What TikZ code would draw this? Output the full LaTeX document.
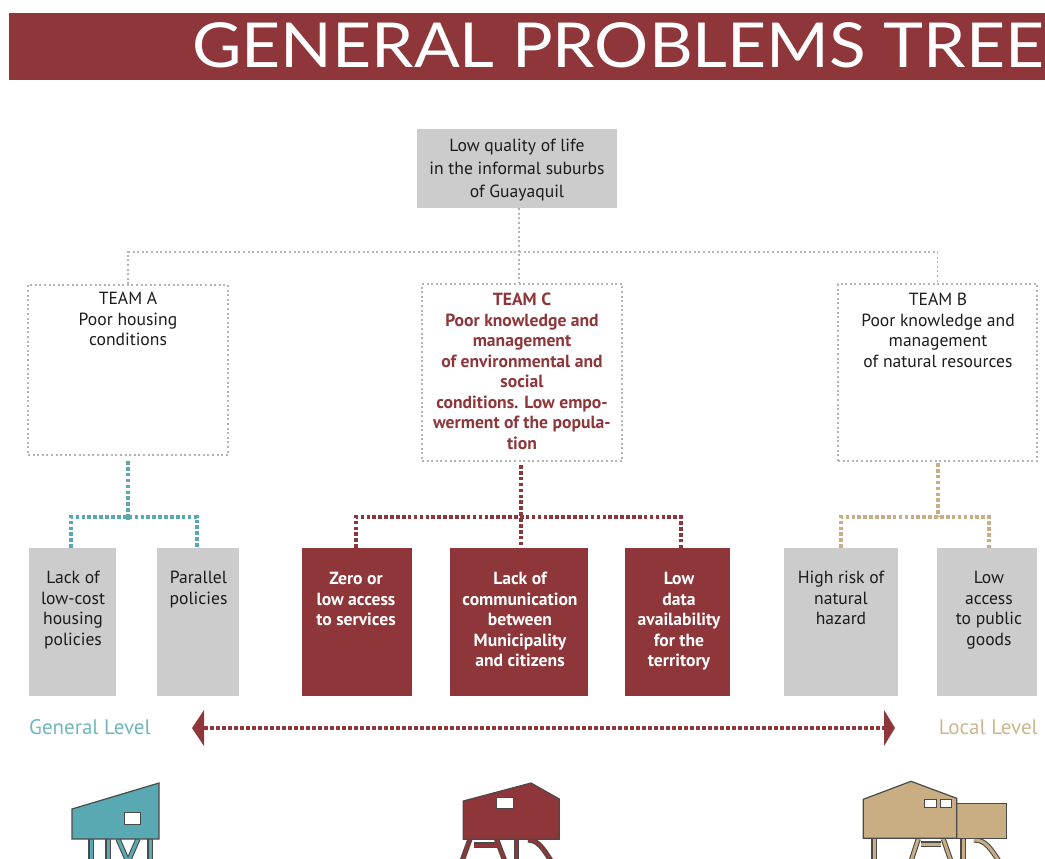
\documentclass[tikz,border=0pt]{standalone}
\usepackage{fontspec}
\setmainfont{PT Sans}
\newfontfamily\titlefont{Lato}
\usetikzlibrary{calc}
\definecolor{wine}{HTML}{8E3639}
\definecolor{boxgrey}{HTML}{CCCCCC}
\definecolor{teal1}{HTML}{58A9B1}
\definecolor{tan1}{HTML}{C8AE82}
\definecolor{dots}{HTML}{B4B4B4}
\definecolor{ink}{HTML}{1C1C1C}
\definecolor{outl}{HTML}{4A4A4A}
\tikzset{
  x=1pt,y=-1pt,
  greybox/.style={fill=boxgrey,draw=none,inner sep=0pt},
  winebox/.style={fill=wine,draw=none,inner sep=0pt},
  teambox/.style={draw=dots,line width=1.4pt,dash pattern=on 2pt off 2.6pt,inner sep=0pt},
  boxtext/.style={align=center,inner sep=0pt,text=ink,font=\fontsize{17.6}{20.5}\selectfont},
  whitetext/.style={boxtext,text=white,font=\fontsize{17.6}{20.5}\selectfont\bfseries},
  thin dots/.style={draw=dots,line width=1.4pt,dash pattern=on 2pt off 2.6pt},
  thick dots/.style={line width=3.4pt,dash pattern=on 3.6pt off 2.3pt},
  house/.style={draw=outl,line width=1.2pt,line join=miter},
  win/.style={fill=white,draw=outl,line width=1pt},
  legout/.style={draw=outl,line width=5.2pt},
  tealleg/.style={draw=teal1,line width=3pt},
  wineleg/.style={draw=wine,line width=3pt},
  tanleg/.style={draw=tan1,line width=3pt},
}
\begin{document}
\begin{tikzpicture}
\useasboundingbox (0,0) rectangle (1045,859);
% header
\node[fill=wine,inner sep=0pt,minimum width=1036pt,minimum height=67pt,anchor=north west] (header) at (9,13) {};
\node[anchor=base west,inner sep=0pt,text=white,font=\titlefont\fontsize{62}{62}\selectfont] (title) at (192,68) {\scalebox{1.092}[1]{GENERAL PROBLEMS TREE}};
% top box
\node[greybox,minimum width=200pt,minimum height=79pt] (top) at (517,168.5) {};
\node[boxtext,font=\fontsize{17.6}{23}\selectfont,anchor=center] (toptext) at (517,170) {Low quality of life\\in the informal suburbs\\of Guayaquil};
% teams
\node[teambox,minimum width=200pt,minimum height=170pt] (teamA) at (128,370) {};
\node[teambox,minimum width=200pt,minimum height=177pt] (teamC) at (522,372.5) {};
\node[teambox,minimum width=199pt,minimum height=177pt] (teamB) at (937.5,372.5) {};
\node[boxtext,anchor=north] (teamAtext) at (128,292) {TEAM A\\Poor housing\\conditions};
\node[boxtext,anchor=north,text=wine,font=\fontsize{17.6}{20.5}\selectfont\bfseries] (teamCtext) at (522,293) {TEAM C\\Poor knowledge and\\management\\of environmental and\\social\\conditions. Low empo-\\werment of the popula-\\tion};
\node[boxtext,anchor=north] (teamBtext) at (938,293) {TEAM B\\Poor knowledge and\\management\\of natural resources};
% problem boxes
\node[greybox,minimum width=87pt,minimum height=148pt] (p1) at (72.5,622) {};
\node[greybox,minimum width=82pt,minimum height=148pt] (p2) at (198,622) {};
\node[winebox,minimum width=110pt,minimum height=148pt] (p3) at (357,622) {};
\node[winebox,minimum width=138pt,minimum height=148pt] (p4) at (519,622) {};
\node[winebox,minimum width=105pt,minimum height=148pt] (p5) at (677.5,622) {};
\node[greybox,minimum width=114pt,minimum height=148pt] (p6) at (841,622) {};
\node[greybox,minimum width=100pt,minimum height=148pt] (p7) at (987,622) {};
\node[boxtext,anchor=north] (p1t) at (73,571) {Lack of\\low-cost\\housing\\policies};
\node[boxtext,anchor=north] (p2t) at (198.5,571) {Parallel\\policies};
\node[whitetext,anchor=north] (p3t) at (356,572) {Zero or\\low access\\to services};
\node[whitetext,anchor=north] (p4t) at (520,572) {Lack of\\communication\\between\\Municipality\\and citizens};
\node[whitetext,anchor=north] (p5t) at (679,572) {Low\\data\\availability\\for the\\territory};
\node[boxtext,anchor=north] (p6t) at (841,571) {High risk of\\natural\\hazard};
\node[boxtext,anchor=north] (p7t) at (989,571) {Low\\access\\to public\\goods};
% upper connectors
\coordinate (hub) at (519,252);
\draw[thin dots] ([xshift=2pt]top.south) -- ([xshift=-3pt]teamC.north);
\draw[thin dots] (teamA.north) |- (hub) -| (teamB.north);
% teal tree
\coordinate (ja) at (128,517);
\coordinate (fromA) at (128,461);
\draw[thick dots,draw=teal1] (fromA) -- (ja);
\draw[thick dots,draw=teal1] ([xshift=-1.5pt]p1.north) |- (ja) -| ([xshift=-1pt]p2.north);
\draw[thick dots,draw=teal1] (ja) -- +(0,3);
% wine tree
\coordinate (jc) at (521,517);
\coordinate (fromC) at (521,465);
\draw[thick dots,draw=wine] (fromC) -- ([xshift=2pt]p4.north);
\draw[thick dots,draw=wine] ([xshift=-1pt]p3.north) |- (jc) -| ([xshift=3.5pt]p5.north);
% tan tree
\coordinate (jb) at (938,517);
\coordinate (fromB) at (938,463);
\draw[thick dots,draw=tan1] (fromB) -- (jb);
\draw[thick dots,draw=tan1] (p6.north) |- (jb) -| ([xshift=2pt]p7.north);
% level arrow
\node[anchor=base west,inner sep=0pt,text=teal1!85!white,font=\fontsize{21}{21}\selectfont] (general) at (29,734) {General Level};
\node[anchor=base east,inner sep=0pt,text=tan1!90!white,font=\fontsize{21}{21}\selectfont] (local) at (1038,734) {Local Level};
\coordinate (arrL) at (204,728);
\coordinate (arrR) at (884,728);
\draw[draw=wine,line width=3.4pt,dash pattern=on 3.6pt off 2.4pt] (arrL) -- (arrR);
\fill[wine] (204,710) -- (192,728) -- (204,746) -- cycle;
\fill[wine] (884,710) -- (895,728) -- (884,746) -- cycle;
\begin{scope}
\clip (0,770) rectangle (1045,859);
% teal house
\foreach \p in {legout,tealleg} {
  \draw[\p] (91,839) -- (91,870);
  \draw[\p] (108,839) -- (108,870);
  \draw[\p] (118,839) -- (128,862);
  \draw[\p] (138,839) -- (128,862);
  \draw[\p] (150,839) -- (150,870);
}
\draw[house,fill=teal1] (72,809) -- (159,783) -- (159,839) -- (72,839) -- cycle;
\draw[win] (124,812) rectangle (140,824);
% wine house
\foreach \p in {legout,wineleg} {
  \draw[\p] (470,839) -- (461,864);
  \draw[\p] (496.5,839) -- (506,864);
  \draw[\p] (474,845) -- (499,845);
  \draw[\p] (516.5,839) -- (516.5,864);
  \draw[\p] (528,840) .. controls (538,840) and (543,848) .. (553,864);
}
\draw[house,fill=wine] (463.3,801) -- (531,783) -- (559.3,799) -- (559.3,839.3) -- (463.3,839.3) -- cycle;
\draw[win] (496.7,797.3) rectangle (513.3,808.3);
% tan house
\foreach \p in {legout,tanleg} {
  \draw[\p] (874,839) -- (874,864);
  \draw[\p] (918.3,839) -- (910,864);
  \draw[\p] (943.3,839) -- (952,864);
  \draw[\p] (921,844) -- (941,844);
  \draw[\p] (963,839) -- (963,864);
  \draw[\p] (974,840) .. controls (986,840) and (990,848) .. (1001,864);
}
\draw[house,fill=tan1] (956.7,803.3) rectangle (1006.7,838.3);
\draw[house,fill=tan1] (863.3,799.3) -- (911,781.3) -- (956.7,798.3) -- (956.7,838.3) -- (863.3,838.3) -- cycle;
\draw[win] (924.3,799.3) rectangle (936.7,807.3);
\draw[win] (940,799.3) rectangle (951.7,807.3);
\end{scope}
\end{tikzpicture}
\end{document}
